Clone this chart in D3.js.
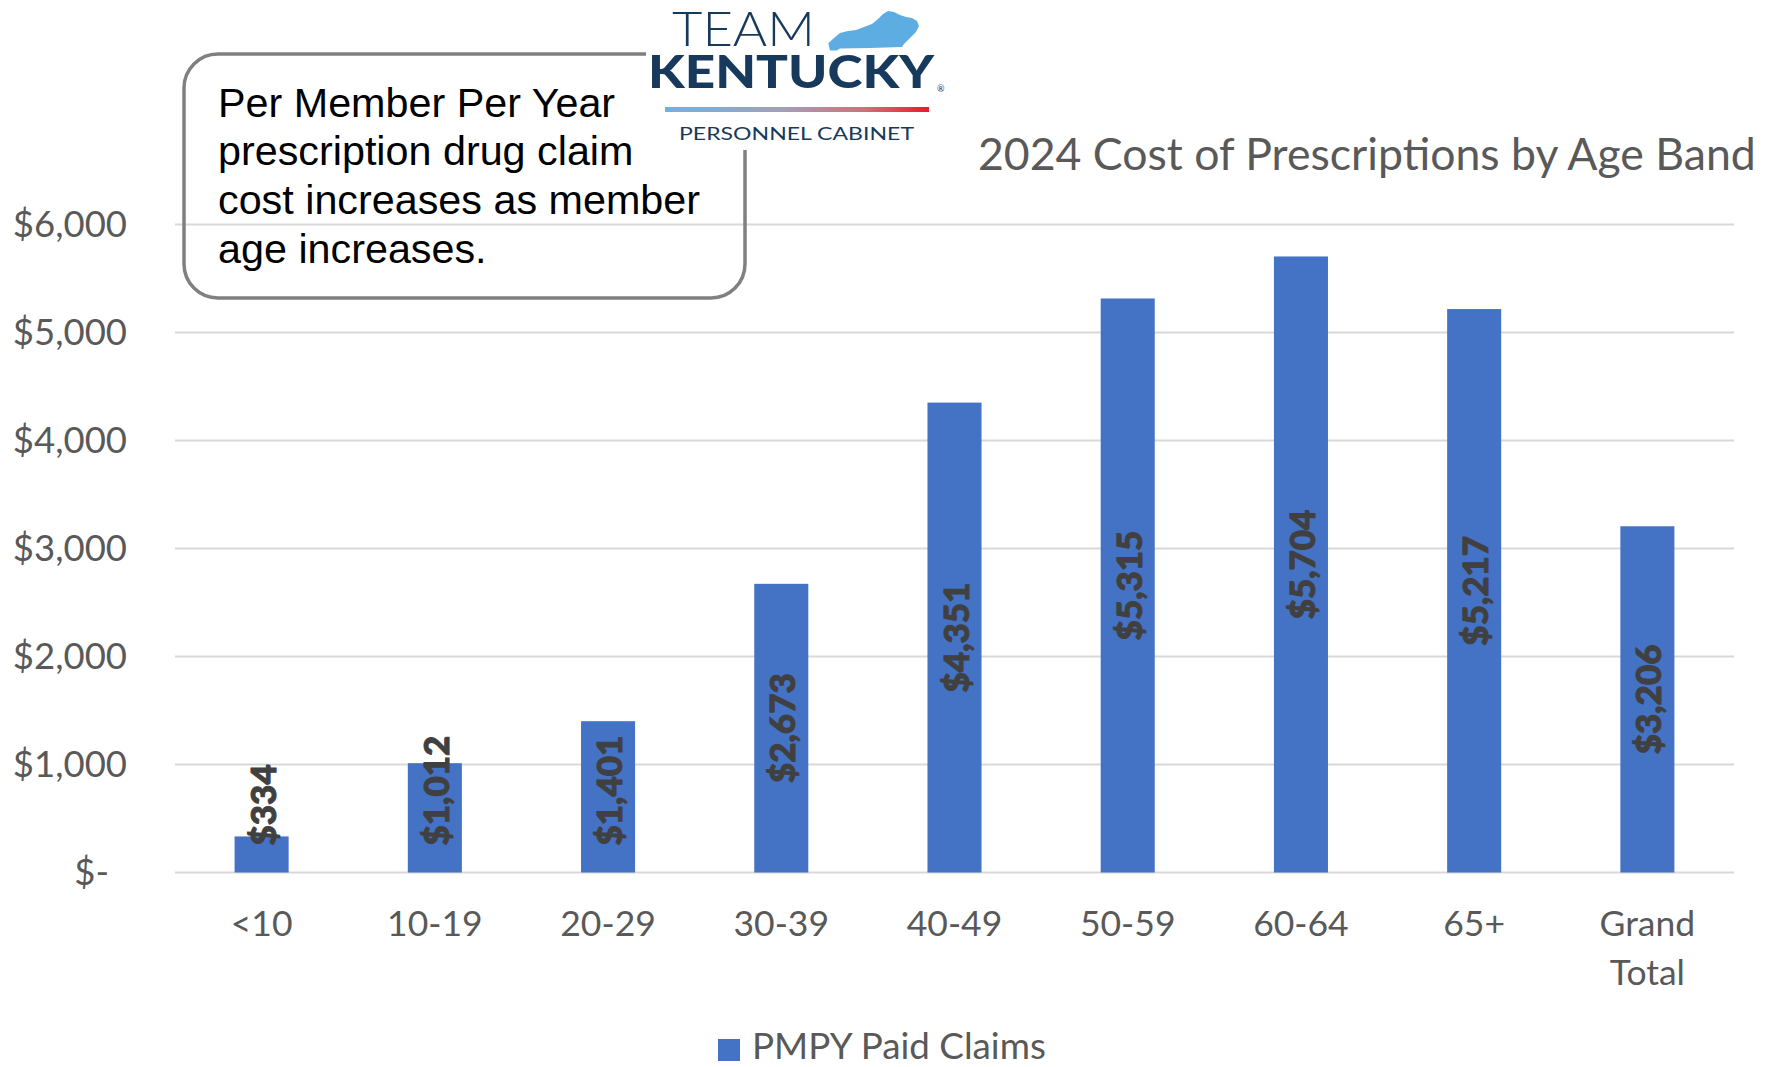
<!DOCTYPE html>
<html>
<head>
<meta charset="utf-8">
<script src="https://cdn.jsdelivr.net/npm/d3@7"></script>
<style>
  html, body { margin: 0; padding: 0; background: #fff; }
  svg { display: block; }
</style>
</head>
<body>
<svg id="chart" width="1779" height="1067"></svg>
<script>
// Age bands and the per-member-per-year prescription cost for each
const categories = ["<10", "10-19", "20-29", "30-39", "40-49", "50-59", "60-64", "65+", "Grand Total"];
const pmpyPaid = [334, 1012, 1401, 2673, 4351, 5315, 5704, 5217, 3206];
const yTicks = [0, 1000, 2000, 3000, 4000, 5000, 6000];
const seriesName = "PMPY Paid Claims";
const chartTitle = "2024 Cost of Prescriptions by Age Band";
const noteLines = ["Per Member Per Year", "prescription drug claim", "cost increases as member", "age increases."];

const W = 1779, H = 1067;
const plot = { left: 175, right: 1734, top: 224.5, bottom: 872.5 };
const barColor = "#4472C4";
const gridColor = "#d9d9d9";
const textGray = "#595959";
const font = "Lato, 'Open Sans', sans-serif";

const svg = d3.select("#chart");

const x = d3.scaleBand()
  .domain(categories)
  .range([plot.left, plot.right])
  .paddingInner(0.688)
  .paddingOuter(0.344);

const y = d3.scaleLinear()
  .domain([0, 6000])
  .range([plot.bottom, plot.top]);

const money = d3.format("$,.0f");

// scale a text's font size so it spans the given width
function fitWidth(sel, w) {
  const len = sel.node().getComputedTextLength();
  const fs = parseFloat(sel.attr("font-size"));
  sel.attr("font-size", fs * w / len);
}

// gridlines
svg.append("g")
  .selectAll("line")
  .data(yTicks)
  .join("line")
  .attr("x1", plot.left)
  .attr("x2", plot.right)
  .attr("y1", d => y(d))
  .attr("y2", d => y(d))
  .attr("stroke", gridColor)
  .attr("stroke-width", 2);

// y axis labels (accounting style: zero shows as "$-")
const yAxis = svg.append("g")
  .attr("transform", `translate(${plot.left - 48},0)`)
  .call(d3.axisLeft(y).tickValues(yTicks).tickSize(0).tickPadding(0)
    .tickFormat(d => d === 0 ? "$-" : money(d)));
yAxis.select(".domain").remove();
yAxis.selectAll("text")
  .attr("font-family", font)
  .attr("font-size", 36.5)
  .attr("fill", textGray)
  .attr("dx", d => d === 0 ? -18 : 0);

// bars
svg.append("g")
  .selectAll("rect")
  .data(categories)
  .join("rect")
  .attr("x", d => x(d))
  .attr("width", x.bandwidth())
  .attr("y", (d, i) => y(pmpyPaid[i]))
  .attr("height", (d, i) => y(0) - y(pmpyPaid[i]))
  .attr("fill", barColor);

// rotated value labels, centred in the bar but kept clear of the baseline
const labelFloor = y(0) - 27;
const labels = svg.append("g")
  .selectAll("text")
  .data(categories)
  .join("text")
  .attr("font-family", font)
  .attr("font-weight", 900)
  .attr("font-size", 35)
  .attr("fill", "#404040")
  .attr("stroke", "#404040")
  .attr("stroke-width", 1)
  .attr("text-anchor", "middle")
  .attr("dominant-baseline", "central")
  .text((d, i) => money(pmpyPaid[i]));
labels.each(function (d, i) {
  const len = this.getComputedTextLength();
  const cx = x(d) + x.bandwidth() / 2;
  const mid = (y(pmpyPaid[i]) + y(0)) / 2;
  const cy = Math.min(mid, labelFloor - len / 2);
  d3.select(this).attr("transform", `translate(${cx},${cy}) rotate(-90)`);
});

// category labels
const xLab = svg.append("g")
  .selectAll("text")
  .data(categories)
  .join("text")
  .attr("font-family", font)
  .attr("font-size", 35.5)
  .attr("fill", textGray)
  .attr("text-anchor", "middle")
  .attr("x", d => x(d) + x.bandwidth() / 2)
  .attr("y", 936);
xLab.each(function (d) {
  const words = d.split(" ");
  const t = d3.select(this);
  words.forEach((w, k) => {
    t.append("tspan")
      .attr("x", x(d) + x.bandwidth() / 2)
      .attr("dy", k === 0 ? 0 : 49)
      .text(w);
  });
});

// title
const title = svg.append("text")
  .attr("x", 978)
  .attr("y", 170)
  .attr("font-family", font)
  .attr("font-size", 42)
  .attr("fill", textGray)
  .text(chartTitle);
fitWidth(title, 778);

// legend
svg.append("rect")
  .attr("x", 718).attr("y", 1039)
  .attr("width", 22).attr("height", 22)
  .attr("fill", barColor);
const legText = svg.append("text")
  .attr("x", 752)
  .attr("y", 1059)
  .attr("font-family", font)
  .attr("font-size", 35)
  .attr("fill", textGray)
  .text(seriesName);
fitWidth(legText, 294);

// callout box with note
svg.append("rect")
  .attr("x", 184).attr("y", 54)
  .attr("width", 561).attr("height", 244)
  .attr("rx", 34).attr("ry", 34)
  .attr("fill", "none")
  .attr("stroke", "#808080")
  .attr("stroke-width", 3.5);
svg.append("g")
  .selectAll("text")
  .data(noteLines)
  .join("text")
  .attr("x", 218)
  .attr("y", (d, i) => 116.5 + i * 48.8)
  .attr("font-family", "'Liberation Sans', Arial, sans-serif")
  .attr("font-size", 41.3)
  .attr("fill", "#000")
  .text(d => d);

// logo block
const logo = svg.append("g");
logo.append("rect")
  .attr("x", 646).attr("y", 0)
  .attr("width", 304).attr("height", 150)
  .attr("fill", "#fff");
const navy = "#17395c";
logo.append("text")
  .attr("x", 672).attr("y", 46)
  .attr("font-family", font)
  .attr("font-weight", 300)
  .attr("font-size", 47)
  .attr("fill", navy)
  .attr("textLength", 143)
  .attr("lengthAdjust", "spacingAndGlyphs")
  .text("TEAM");
logo.append("path")
  .attr("d", "M828.3,43.3 L834,38 L840,33 L848,31 L856,30 L864,27 L872,24 L878,19 L883,14 L888,11 L894,12 L900,15 L906,17 L912,18 L917,21 L919,26 L916,32 L910,38 L904,44 L902,47 L870,48 L840,48.5 L836.7,50.5 L830,50.5 Z")
  .attr("fill", "#5dade2");
logo.append("text")
  .attr("x", 648).attr("y", 88)
  .attr("font-family", font)
  .attr("font-weight", 900)
  .attr("font-size", 46)
  .attr("fill", navy)
  .attr("textLength", 286)
  .attr("lengthAdjust", "spacingAndGlyphs")
  .text("KENTUCKY");
logo.append("text")
  .attr("x", 937).attr("y", 92)
  .attr("font-family", font)
  .attr("font-size", 9)
  .attr("fill", navy)
  .text("®");
const grad = svg.append("defs").append("linearGradient")
  .attr("id", "logoStripe")
  .attr("x1", "0%").attr("x2", "100%");
[["0%", "#6db3e3"], ["45%", "#a39fb8"], ["75%", "#cf717a"], ["100%", "#e61e2b"]]
  .forEach(([o, c]) => grad.append("stop").attr("offset", o).attr("stop-color", c));
logo.append("rect")
  .attr("x", 665).attr("y", 107)
  .attr("width", 264).attr("height", 5)
  .attr("fill", "url(#logoStripe)");
logo.append("text")
  .attr("x", 679).attr("y", 140)
  .attr("font-family", font)
  .attr("font-size", 17.5)
  .attr("fill", navy)
  .attr("textLength", 235)
  .attr("lengthAdjust", "spacingAndGlyphs")
  .text("PERSONNEL CABINET");
</script>
</body>
</html>
